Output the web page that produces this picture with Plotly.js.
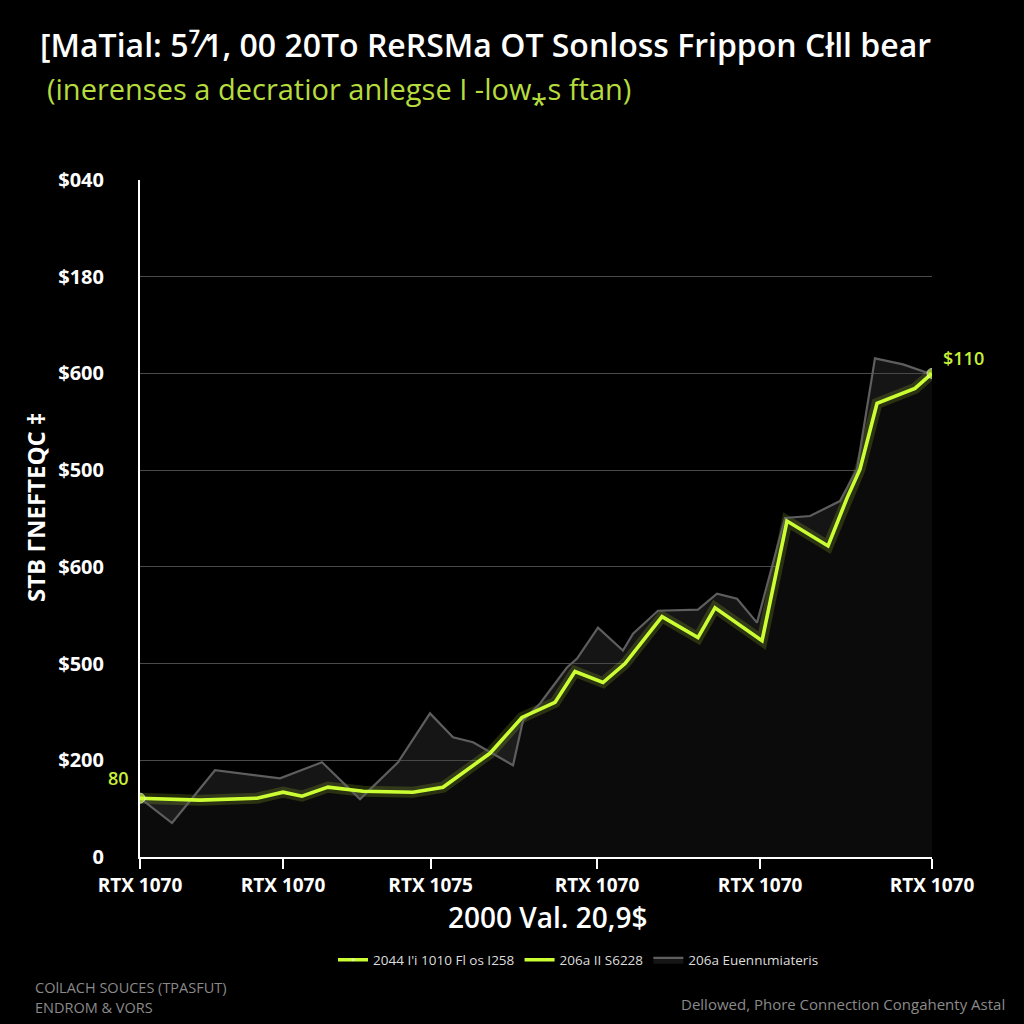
<!DOCTYPE html>
<html>
<head>
<meta charset="utf-8">
<script src="https://cdn.plot.ly/plotly-3.0.1.min.js"></script>
<style>
  html, body { margin: 0; padding: 0; background: #000; }
  #chart { width: 1024px; height: 1024px; }
</style>
</head>
<body>
<div id="chart"></div>
<script>
// ---- data ----
const xTickVals = [0, 18.06, 36.7, 57.7, 78.3, 100];
const xTickText = ["RTX 1070", "RTX 1070", "RTX 1075", "RTX 1070", "RTX 1070", "RTX 1070"];
const yTickVals = [0, 100, 200, 300, 400, 500, 600, 700];
const yTickText = ["0", "$200", "$500", "$600", "$500", "$600", "$180", "$040"];

const greenX = [0, 7.58, 14.77, 18.06, 20.45, 23.74, 28.16, 34.47, 38.26, 41.67, 44.19, 48.23, 52.40, 54.92, 58.46, 61.24, 65.91, 70.45, 72.60, 78.54, 81.69, 86.87, 89.27, 90.91, 93.06, 97.85, 100];
const greenY = [60.8, 58.8, 60.8, 67.0, 62.9, 72.2, 68.0, 67.0, 72.2, 91.8, 107.2, 144.3, 159.8, 191.8, 180.4, 200.0, 248.5, 226.8, 257.7, 223.7, 347.4, 321.6, 371.1, 401.0, 469.1, 484.5, 500.0];

const grayX = [0, 4.04, 9.47, 17.68, 22.98, 27.78, 32.58, 36.62, 39.52, 42.05, 47.10, 48.36, 50.51, 53.91, 55.18, 57.83, 60.98, 62.25, 65.40, 70.45, 72.85, 75.38, 77.90, 81.44, 84.60, 88.38, 90.53, 92.80, 96.34, 100];
const grayY = [60.8, 35.1, 89.7, 81.4, 97.9, 59.8, 97.9, 148.5, 123.7, 118.6, 94.8, 141.2, 158.8, 195.9, 205.2, 237.1, 213.4, 230.9, 254.6, 255.7, 272.2, 267.0, 242.3, 350.5, 352.6, 368.0, 401.0, 515.5, 509.3, 499.0];

const seriesNames = ["2044 I'i 1010 Fl os I258", "206a II S6228", "206a Euennιmiateris"];
const startLabel = "80";
const endLabel = "$110";

// ---- styles ----
const LIME = "#ccff33";
const markerSizes = greenY.map((v, i) => (i === 0 || i === greenY.length - 1) ? 10 : 0);

const traces = [
  { // glow + dark area under the lime line
    x: greenX, y: greenY, type: "scatter", mode: "lines",
    line: { color: "rgba(204,255,51,0.16)", width: 11 },
    fill: "tozeroy", fillcolor: "#0b0b0b",
    showlegend: false, hoverinfo: "skip"
  },
  { // gray series, area between it and the lime line
    x: grayX, y: grayY, type: "scatter", mode: "lines",
    name: seriesNames[2], legendrank: 3,
    line: { color: "#5e5e5e", width: 2.2 },
    fill: "tonexty", fillcolor: "rgba(70,70,70,0.30)"
  },
  { // crisp lime line
    x: greenX, y: greenY, type: "scatter", mode: "lines+markers",
    name: seriesNames[0], legendrank: 1,
    line: { color: LIME, width: 3.6 },
    marker: { color: LIME, size: markerSizes }
  },
  { // second lime legend entry
    x: [null], y: [null], type: "scatter", mode: "lines",
    name: seriesNames[1], legendrank: 2,
    line: { color: LIME, width: 3.6 }
  }
];

const L = 140, R = 932, T = 180, B = 857;
const px2x = p => (p - L) / (R - L);
const px2y = p => (B - p) / (B - T);

const layout = {
  width: 1024, height: 1024,
  paper_bgcolor: "#000", plot_bgcolor: "#000",
  margin: { l: L, r: 1024 - R, t: T, b: 1024 - B, pad: 0 },
  font: { family: "Open Sans, Liberation Sans, sans-serif", color: "#fff" },
  title: {
    text: "[MaTial: 5⁷⁄1, 00 20To ReRSMa OT Sonloss Frippon Cłll bear",
    font: { family: "Open Sans", size: 32, color: "#fff", weight: 600 },
    x: 40 / 1024, xanchor: "left", xref: "container",
    y: 1 - 46 / 1024, yanchor: "middle", yref: "container"
  },
  xaxis: {
    range: [0, 100], fixedrange: true,
    tickvals: xTickVals, ticktext: xTickText,
    ticks: "outside", ticklen: 10, tickwidth: 2, tickcolor: "#fff",
    tickfont: { size: 19, color: "#fff", weight: "bold", family: "Open Sans" },
    showline: true, linecolor: "#fff", linewidth: 2,
    showgrid: false, zeroline: false
  },
  yaxis: {
    range: [0, 700], fixedrange: true,
    tickvals: yTickVals, ticktext: yTickText,
    ticks: "", ticklabelstandoff: 30,
    tickfont: { size: 20, color: "#fff", weight: "bold", family: "Open Sans" },
    showline: true, linecolor: "#fff", linewidth: 2,
    showgrid: true, gridcolor: "#4a4a4a", gridwidth: 1,
    zeroline: false
  },
  legend: {
    orientation: "h", x: px2x(333), xanchor: "left",
    y: px2y(960), yanchor: "middle",
    font: { size: 13.5, color: "#ddd" },
    bgcolor: "rgba(0,0,0,0)", traceorder: "normal"
  },
  showlegend: true,
  annotations: [
    { text: "(inerenses a decratior anlegse I -low⁎s ftan)", xref: "paper", yref: "paper",
      x: px2x(45), y: px2y(88), xanchor: "left", yanchor: "middle", showarrow: false,
      font: { size: 29, color: "#b6dc3e", family: "Open Sans" } },
    { text: "STB ΓNEFTEQC ‡", xref: "paper", yref: "paper", textangle: -90,
      x: px2x(35), y: px2y(508), xanchor: "center", yanchor: "middle", showarrow: false,
      font: { size: 24, color: "#fff", weight: "bold", family: "Open Sans" } },
    { text: "2000 Val. 20,9$", xref: "paper", yref: "paper",
      x: px2x(547), y: px2y(917), xanchor: "center", yanchor: "middle", showarrow: false,
      font: { size: 28, color: "#fff", family: "Open Sans", weight: 600 } },
    { text: startLabel, xref: "x", yref: "y", x: greenX[0], y: greenY[0],
      xshift: -22, yshift: 20, showarrow: false,
      font: { size: 18, color: "#c8f03a", family: "Open Sans", weight: 600 } },
    { text: endLabel, xref: "x", yref: "y", x: greenX[greenX.length - 1], y: greenY[greenY.length - 1],
      xshift: 31, yshift: 15, showarrow: false,
      font: { size: 18, color: "#c8f03a", family: "Open Sans", weight: 600 } },
    { text: "COlLACH SOUCES (TPASFUT)", xref: "paper", yref: "paper",
      x: px2x(33), y: px2y(987), xanchor: "left", yanchor: "middle", showarrow: false,
      font: { size: 14.5, color: "#8a8a8a", family: "Open Sans" } },
    { text: "ENDROM &amp; VORS", xref: "paper", yref: "paper",
      x: px2x(33), y: px2y(1007), xanchor: "left", yanchor: "middle", showarrow: false,
      font: { size: 14.5, color: "#8a8a8a", family: "Open Sans" } },
    { text: "Dellowed, Phore Connection Congahenty Astal", xref: "paper", yref: "paper",
      x: px2x(1007), y: px2y(1004), xanchor: "right", yanchor: "middle", showarrow: false,
      font: { size: 15, color: "#8a8a8a", family: "Open Sans" } }
  ]
};

Plotly.newPlot("chart", traces, layout, { displayModeBar: false, staticPlot: true });
</script>
</body>
</html>
